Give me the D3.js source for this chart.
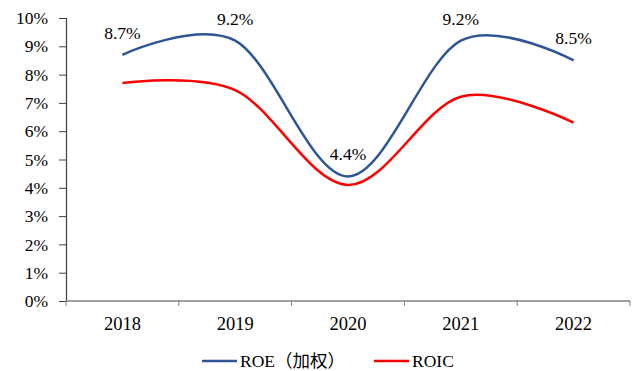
<!DOCTYPE html>
<html><head><meta charset="utf-8">
<script src="https://cdn.jsdelivr.net/npm/d3@7"></script>
<style>
html,body{margin:0;padding:0;background:#fff;}
</style></head>
<body><svg id="c" width="634" height="371"></svg>
<script>
const years = ["2018","2019","2020","2021","2022"];
const roe = [8.7, 9.2, 4.4, 9.2, 8.5];
const roic = [7.7, 7.45, 4.1, 7.22, 6.3];
const yTicks = [0,1,2,3,4,5,6,7,8,9,10];
const seriesNames = ["ROE（加权）","ROIC"];
const colors = ["#2F5597","#FF0000"];

(function(){
const FONT = "'Liberation Serif','Times New Roman',Tinos,'DejaVu Serif','Noto Sans CJK SC',serif";
const svg = d3.select("#c");
const mL = 66, mR = 630, mT = 18, mB = 301;
const x = d3.scaleBand().domain(years).range([mL, mR]);
const y = d3.scaleLinear().domain([0,10]).range([mB, mT]);
const cx = d => x(d) + x.bandwidth()/2;

const ya = svg.append("g").attr("transform",`translate(${mL},0)`)
  .call(d3.axisLeft(y).tickValues(yTicks).tickFormat(d=>d+"%").tickSize(7).tickPadding(11));
ya.select(".domain").attr("stroke","#404040").attr("stroke-width",1.2);
ya.selectAll(".tick line").attr("stroke","#404040");
ya.attr("font-family",FONT).attr("font-size",17.5);
ya.selectAll("text").attr("fill","#000");

const xa = svg.append("g").attr("transform",`translate(0,${mB})`)
  .call(d3.axisBottom(x).tickSize(0).tickPadding(16));
xa.select(".domain").attr("stroke","#808080").attr("stroke-width",1.5).attr("d",`M${mL},0H${mR}`);
xa.attr("font-family",FONT).attr("font-size",18.5);
xa.selectAll("text").attr("fill","#000");
const bounds = years.map(d=>x(d)).concat([mR]);
svg.append("g").selectAll("line").data(bounds).join("line")
  .attr("x1",d=>d).attr("x2",d=>d).attr("y1",mB).attr("y2",mB+5)
  .attr("stroke","#808080").attr("stroke-width",1);

const line = d3.line().x((d,i)=>cx(years[i])).y(d=>y(d)).curve(d3.curveCardinal.tension(0));
[roe, roic].forEach((s,k)=>{
  svg.append("path").attr("d",line(s)).attr("fill","none")
    .attr("stroke",colors[k]).attr("stroke-width",2.5);
});

svg.append("g").attr("font-family",FONT).selectAll("text").data(roe).join("text")
  .attr("x",(d,i)=>cx(years[i])).attr("y",d=>y(d)-16)
  .attr("text-anchor","middle").attr("font-size",17.5).attr("fill","#000")
  .text(d=>d.toFixed(1)+"%");

const lg = svg.append("g").attr("font-family",FONT);
const lx = [202, 374];
seriesNames.forEach((n,k)=>{
  lg.append("line").attr("x1",lx[k]).attr("x2",lx[k]+35).attr("y1",361).attr("y2",361)
    .attr("stroke",colors[k]).attr("stroke-width",2.5);
  lg.append("text").attr("x",lx[k]+38).attr("y",367).attr("font-size",17.5).attr("fill","#000").text(n);
});
})();
</script></body></html>
